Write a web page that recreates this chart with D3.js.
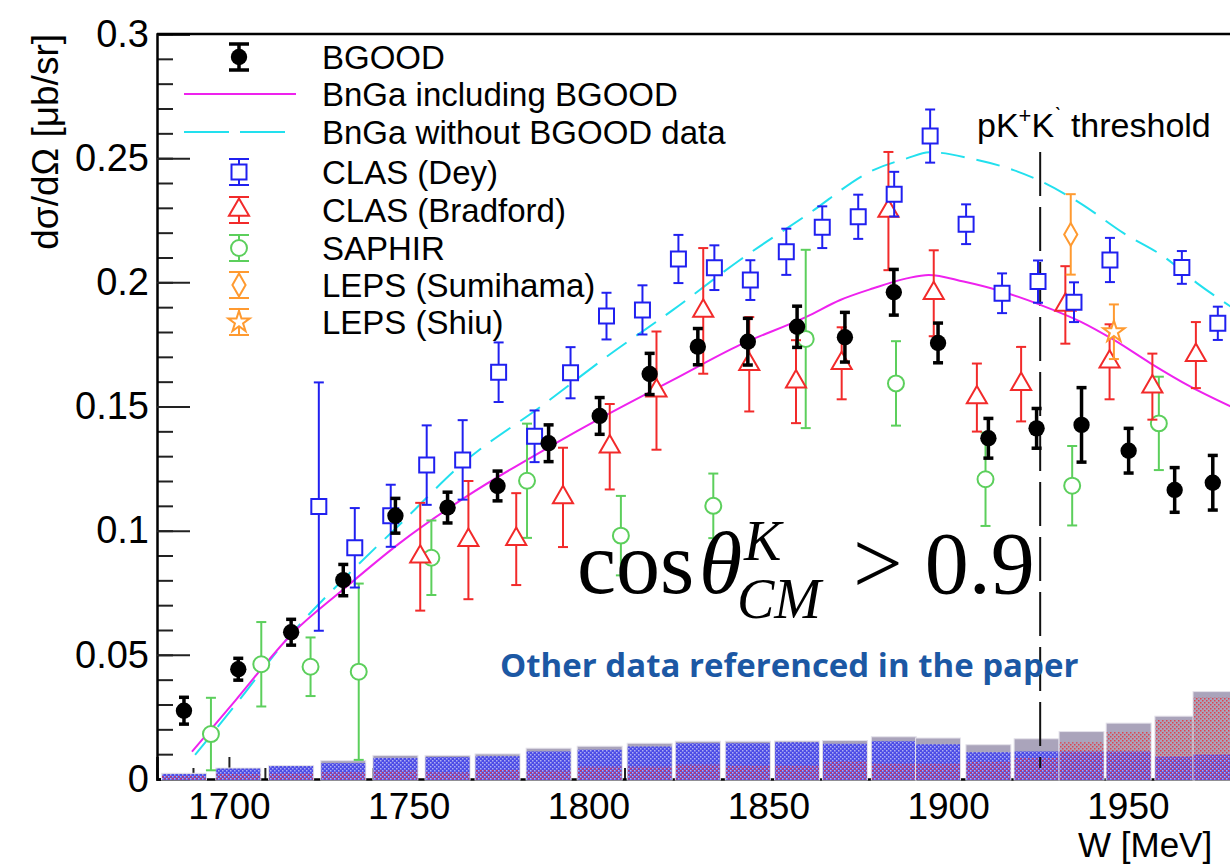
<!DOCTYPE html>
<html><head><meta charset="utf-8">
<script src="https://cdn.jsdelivr.net/npm/d3@7"></script>
<style>body{margin:0;background:#fff;} svg{display:block;font-family:"Liberation Sans",Arial,sans-serif;}</style>
</head><body><svg id="c" width="1230" height="864"></svg>
<script>
// ---------------- data ----------------
const bgoodW = [1687.5,1702.6,1717.3,1731.8,1746.3,1760.8,1774.7,1788.9,1803.1,1817.0,1830.4,1844.3,1858.0,1871.3,1884.9,1897.2,1911.2,1924.6,1937.1,1950.2,1963.0,1973.6];
const bgoodY = [0.0275,0.0442,0.0591,0.0801,0.1060,0.1093,0.1180,0.1352,0.1462,0.1631,0.1741,0.1761,0.1821,0.1779,0.1960,0.1756,0.1372,0.1412,0.1426,0.1322,0.1164,0.1193];
const bgoodE = [0.0054,0.0044,0.0052,0.0063,0.0070,0.0062,0.0060,0.0074,0.0074,0.0083,0.0073,0.0094,0.0083,0.0100,0.0092,0.0080,0.0080,0.0080,0.0150,0.0090,0.0090,0.0110];

const deyW = [1725,1735,1745,1755,1765,1775,1785,1795,1805,1815,1825,1835,1845,1855,1865,1875,1885,1895,1905,1915,1925,1935,1945,1965,1975];
const deyY = [0.1097,0.0931,0.1060,0.1264,0.1285,0.1638,0.1380,0.1636,0.1864,0.1889,0.2094,0.2059,0.2009,0.2123,0.2222,0.2264,0.2355,0.2589,0.2234,0.1956,0.2003,0.1920,0.2090,0.2060,0.1835];
const deyE = [0.0500,0.0160,0.0125,0.0160,0.0160,0.0120,0.0104,0.0103,0.0094,0.0099,0.0097,0.0090,0.0080,0.0093,0.0084,0.0089,0.0090,0.0107,0.0080,0.0080,0.0085,0.0080,0.0089,0.0066,0.0067];

const bradW = [1753.2,1766.6,1779.9,1792.9,1805.9,1818.9,1831.9,1844.7,1857.7,1870.4,1883.4,1896.0,1908.0,1920.3,1932.6,1944.9,1956.8,1968.9];
const bradY = [0.0895,0.0962,0.0966,0.1134,0.1338,0.1564,0.1885,0.1670,0.1600,0.1674,0.2287,0.1956,0.1536,0.1590,0.1909,0.1680,0.1580,0.1707];
const bradE = [0.0217,0.0238,0.0185,0.0200,0.0172,0.0238,0.0253,0.0190,0.0167,0.0145,0.0238,0.0173,0.0137,0.0150,0.0156,0.0151,0.0133,0.0133];

const sapW = [1695.0,1709.0,1722.7,1736.1,1756.3,1782.9,1809.0,1834.7,1860.4,1885.5,1910.4,1934.5,1958.6];
const sapY = [0.0181,0.0462,0.0452,0.0432,0.0891,0.1201,0.0980,0.1100,0.1772,0.1593,0.1207,0.1181,0.1432];
const sapE = [0.0146,0.0170,0.0118,0.0355,0.0150,0.0230,0.0160,0.0130,0.0359,0.0170,0.0188,0.0160,0.0188];

const sumW = [1934.1], sumY = [0.2193], sumE = [0.0162];
const shiuW = [1946.1], shiuY = [0.1801], shiuE = [0.0110];

const bngaW = [1689.7,1701.9,1717.7,1731.6,1747.4,1766.0,1789.2,1805.0,1823.5,1842.1,1860.7,1870.0,1879.2,1888.5,1894.6,1904.3,1913.6,1925.7,1936.8,1946.1,1956.3,1967.4,1978.6];
const bngaY = [0.0110,0.0318,0.0587,0.0761,0.0949,0.1137,0.1338,0.1466,0.1607,0.1748,0.1862,0.1929,0.1976,0.2016,0.2030,0.2003,0.1969,0.1909,0.1842,0.1768,0.1674,0.1580,0.1500];
const bnga0W = [1690.6,1701.9,1717.7,1731.6,1748.3,1765.0,1787.3,1805.0,1823.5,1842.1,1860.7,1879.2,1888.5,1895.0,1906.2,1918.2,1925.7,1936.8,1948.9,1960.0,1969.3,1978.6];
const bnga0Y = [0.0097,0.0300,0.0590,0.0801,0.1036,0.1271,0.1506,0.1700,0.1889,0.2090,0.2271,0.2452,0.2499,0.2524,0.2499,0.2452,0.2408,0.2318,0.2197,0.2103,0.1996,0.1902];

// systematic-uncertainty histogram (same W bins as BGOOD)
const histW = bgoodW;
const histWidth = [12.5,12.5,12.5,12.5,12.5,12.5,12.5,12.5,12.5,12.5,12.5,12.5,12.5,12.5,12.5,12.5,12.5,12.5,12.5,12.5,11,11];
const histTotal = [0.0023,0.0044,0.0054,0.0074,0.0095,0.0095,0.0101,0.0124,0.0132,0.0144,0.0152,0.0152,0.0153,0.0155,0.0170,0.0165,0.0138,0.0162,0.0191,0.0225,0.0253,0.0352];
const histBlue  = [0.0020,0.0042,0.0052,0.0064,0.0085,0.0088,0.0092,0.0111,0.0118,0.0131,0.0144,0.0144,0.0148,0.0142,0.0152,0.0140,0.0108,0.0111,0.0111,0.0111,0.0091,0.0099];
const histRed   = [0.0012,0.0020,0.0022,0.0027,0.0034,0.0027,0.0037,0.0034,0.0050,0.0050,0.0058,0.0054,0.0054,0.0072,0.0062,0.0062,0.0070,0.0085,0.0148,0.0189,0.0238,0.0329];

const thresholdW = 1925.6;
const xTicks = [1700,1750,1800,1850,1900,1950];
const xTickLabels = ["1700","1750","1800","1850","1900","1950"];
const yTicks = [0,0.05,0.1,0.15,0.2,0.25,0.3];
const yTickLabels = ["0","0.05","0.1","0.15","0.2","0.25","0.3"];
const legendLabels = ["BGOOD","BnGa including BGOOD","BnGa without BGOOD data","CLAS (Dey)","CLAS (Bradford)","SAPHIR","LEPS (Sumihama)","LEPS (Shiu)"];

// ---------------- drawing ----------------
const svg = d3.select('#c');
const X0 = 157, Y0 = 779, YT = 34;
const x = d3.scaleLinear().domain([1680,2000]).range([X0, X0 + 320*3.596]);
const y = d3.scaleLinear().domain([0,0.3]).range([Y0, YT]);

const defs = svg.append('defs');
const pb = defs.append('pattern').attr('id','pBlue').attr('width',4).attr('height',4).attr('patternUnits','userSpaceOnUse');
pb.append('rect').attr('width',4).attr('height',4).attr('fill','#4c4ce6');
pb.append('rect').attr('x',0).attr('y',0).attr('width',1.5).attr('height',1.5).attr('fill','#aeaef2');
pb.append('rect').attr('x',2).attr('y',2).attr('width',1.5).attr('height',1.5).attr('fill','#aeaef2');
const pr = defs.append('pattern').attr('id','pRed').attr('width',4).attr('height',4).attr('patternUnits','userSpaceOnUse');
pr.append('rect').attr('x',2).attr('y',0).attr('width',1.5).attr('height',1.5).attr('fill','#e8303a');
pr.append('rect').attr('x',0).attr('y',2).attr('width',1.5).attr('height',1.5).attr('fill','#e8303a');

// axes
const yMinor = d3.range(0, 0.3001, 0.01);
svg.append('g').attr('transform',`translate(${X0},0)`)
  .call(d3.axisLeft(y).tickValues(yMinor).tickSize(-16).tickFormat(''))
  .call(g => g.selectAll('line').attr('stroke','#222').attr('stroke-width',2))
  .call(g => g.select('.domain').remove());
const yAx = svg.append('g').attr('transform',`translate(${X0},0)`)
  .call(d3.axisLeft(y).tickValues(yTicks).tickSize(-33).tickPadding(8)
        .tickFormat((d,i) => yTickLabels[i]));
yAx.selectAll('line').attr('stroke','#222').attr('stroke-width',2);
yAx.select('.domain').attr('stroke','#000').attr('stroke-width',2.5);
yAx.selectAll('text').attr('font-size',38).attr('fill','#000').attr('font-family','Liberation Sans');

const xMinor = d3.range(1680, 2001, 10);
svg.append('g').attr('transform',`translate(0,${Y0})`)
  .call(d3.axisBottom(x).tickValues(xMinor).tickSize(-11).tickFormat(''))
  .call(g => g.selectAll('line').attr('stroke','#222').attr('stroke-width',2))
  .call(g => g.select('.domain').remove());
const xAx = svg.append('g').attr('transform',`translate(0,${Y0})`)
  .call(d3.axisBottom(x).tickValues(xTicks).tickSize(-22).tickPadding(14)
        .tickFormat((d,i) => xTickLabels[i]));
xAx.selectAll('line').attr('stroke','#222').attr('stroke-width',2);
xAx.select('.domain').attr('stroke','#000').attr('stroke-width',2.5);
xAx.selectAll('text').attr('font-size',37).attr('fill','#000').attr('font-family','Liberation Sans');

// top frame
svg.append('line').attr('x1',X0).attr('x2',x(2000)).attr('y1',YT).attr('y2',YT).attr('stroke','#000').attr('stroke-width',2.5);

// histogram
const hg = svg.append('g');
histW.forEach((w,i) => {
  const x1 = x(w - histWidth[i]/2), x2 = x(w + histWidth[i]/2);
  hg.append('rect').attr('x',x1).attr('width',x2-x1).attr('y',y(histTotal[i])).attr('height',Y0+1-y(histTotal[i]))
    .attr('fill','#aaa4bb').attr('stroke','#e4e2ea').attr('stroke-width',1);
  hg.append('rect').attr('x',x1+0.5).attr('width',x2-x1-1).attr('y',y(histBlue[i])).attr('height',Y0+1-y(histBlue[i]))
    .attr('fill','url(#pBlue)');
  hg.append('rect').attr('x',x1+0.5).attr('width',x2-x1-1).attr('y',y(histRed[i])).attr('height',Y0+1-y(histRed[i]))
    .attr('fill','url(#pRed)').attr('opacity',0.85);
});

// threshold line
svg.append('line').attr('x1',x(thresholdW)).attr('x2',x(thresholdW)).attr('y1',152).attr('y2',768)
  .attr('stroke','#111').attr('stroke-width',2).attr('stroke-dasharray','44,11');
const th = svg.append('text').attr('x',977).attr('y',137).attr('font-size',34).attr('fill','#000');
th.append('tspan').text('pK');
th.append('tspan').attr('font-size',22).attr('dy',-14).text('+');
th.append('tspan').attr('dy',14).text('K');
th.append('tspan').attr('font-size',22).attr('dy',-14).text('\u02CB');
th.append('tspan').attr('dy',14).text(' threshold');

// curves
const line = d3.line().x(d => x(d[0])).y(d => y(d[1])).curve(d3.curveMonotoneX);
svg.append('path').attr('d', line(bnga0W.map((w,i)=>[w,bnga0Y[i]])))
  .attr('fill','none').attr('stroke','#22e0ee').attr('stroke-width',2).attr('stroke-dasharray','24,12');
svg.append('path').attr('d', line(bngaW.map((w,i)=>[w,bngaY[i]])))
  .attr('fill','none').attr('stroke','#ee22ee').attr('stroke-width',2);

// error-bar + marker helper
function series(W, Y, E, color, sym, size, filled, lw, cap) {
  const g = svg.append('g');
  W.forEach((w,i) => {
    const cx = x(w), y1 = y(Y[i]+E[i]), y2 = y(Y[i]-E[i]);
    g.append('line').attr('x1',cx).attr('x2',cx).attr('y1',y1).attr('y2',y2).attr('stroke',color).attr('stroke-width',lw);
    g.append('line').attr('x1',cx-cap).attr('x2',cx+cap).attr('y1',y1).attr('y2',y1).attr('stroke',color).attr('stroke-width',lw);
    g.append('line').attr('x1',cx-cap).attr('x2',cx+cap).attr('y1',y2).attr('y2',y2).attr('stroke',color).attr('stroke-width',lw);
    g.append('path').attr('d', d3.symbol().type(sym).size(size)())
      .attr('transform',`translate(${cx},${y(Y[i])})`)
      .attr('fill', filled ? color : '#fff').attr('stroke',color).attr('stroke-width', filled?0:2);
  });
}
series(sapW, sapY, sapE, '#5ccf5c', d3.symbolCircle, 200, false, 2, 5);
series(bradW, bradY, bradE, '#f22a2a', d3.symbolTriangle, 175, false, 2, 5);
series(deyW, deyY, deyE, '#2020f0', d3.symbolSquare, 225, false, 2, 5);
series(sumW, sumY, sumE, '#ff9a30', d3.symbolDiamond, 150, false, 2, 5);
series(shiuW, shiuY, shiuE, '#ff9a30', d3.symbolStar, 140, false, 2, 5);
series(bgoodW, bgoodY, bgoodE, '#000', d3.symbolCircle, 210, true, 3.5, 5);

// legend
const legY = [57,94,132,172,210,248,285,322];
const lg = svg.append('g');
legendLabels.forEach((t,i) => {
  lg.append('text').attr('x',322).attr('y',legY[i]+12).attr('font-size',33).attr('fill','#000').text(t);
});
function legMark(i, color, sym, size, filled, lw) {
  const cx = 239, cy = legY[i];
  lg.append('line').attr('x1',cx).attr('x2',cx).attr('y1',cy-13).attr('y2',cy+13).attr('stroke',color).attr('stroke-width',lw);
  lg.append('line').attr('x1',cx-10).attr('x2',cx+10).attr('y1',cy-13).attr('y2',cy-13).attr('stroke',color).attr('stroke-width',lw);
  lg.append('line').attr('x1',cx-10).attr('x2',cx+10).attr('y1',cy+13).attr('y2',cy+13).attr('stroke',color).attr('stroke-width',lw);
  lg.append('path').attr('d', d3.symbol().type(sym).size(size)()).attr('transform',`translate(${cx},${cy})`)
    .attr('fill', filled?color:'#fff').attr('stroke',color).attr('stroke-width',filled?0:2);
}
legMark(0,'#000',d3.symbolCircle,210,true,3.5);
lg.append('line').attr('x1',184).attr('x2',296).attr('y1',legY[1]).attr('y2',legY[1]).attr('stroke','#ee22ee').attr('stroke-width',2);
lg.append('line').attr('x1',184).attr('x2',288).attr('y1',legY[2]).attr('y2',legY[2]).attr('stroke','#22e0ee').attr('stroke-width',2).attr('stroke-dasharray','45,11');
legMark(3,'#2020f0',d3.symbolSquare,225,false,2);
legMark(4,'#f22a2a',d3.symbolTriangle,175,false,2);
legMark(5,'#5ccf5c',d3.symbolCircle,200,false,2);
legMark(6,'#ff9a30',d3.symbolDiamond,150,false,2);
legMark(7,'#ff9a30',d3.symbolStar,140,false,2);

// axis titles
svg.append('text').attr('transform','translate(58,34) rotate(-90)').attr('text-anchor','end')
  .attr('font-size',37).attr('fill','#000').text('d\u03C3/d\u03A9 [\u03BCb/sr]');
svg.append('text').attr('x',1078).attr('y',857).attr('font-size',35).attr('fill','#000').text('W [MeV]');

// big annotation
const serif = '"Liberation Serif","Times New Roman",serif';
svg.append('text').attr('x',577).attr('y',593).attr('font-family',serif).attr('font-size',88).attr('fill','#000').text('cos');
svg.append('text').attr('x',699).attr('y',593).attr('font-family',serif).attr('font-style','italic').attr('font-size',88).attr('fill','#000').text('\u03B8');
svg.append('text').attr('x',744).attr('y',560).attr('font-family',serif).attr('font-style','italic').attr('font-size',56).attr('fill','#000').text('K');
svg.append('text').attr('x',737).attr('y',618).attr('font-family',serif).attr('font-style','italic').attr('font-size',56).attr('fill','#000').text('CM');
svg.append('text').attr('x',853).attr('y',593).attr('font-family',serif).attr('font-size',88).attr('fill','#000').text('> 0.9');

svg.append('text').attr('x',500).attr('y',677).attr('font-family','"Open Sans",sans-serif').attr('font-weight','bold')
  .attr('font-size',33).attr('fill','#1c58a4').text('Other data referenced in the paper');
</script></body></html>
